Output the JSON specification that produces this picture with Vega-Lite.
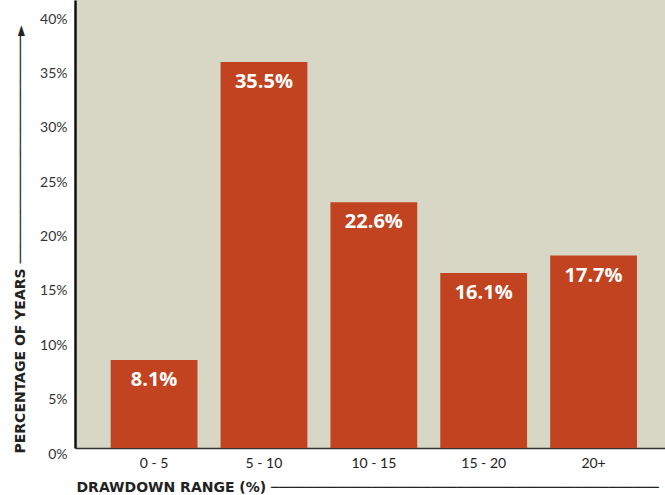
{
  "$schema": "https://vega.github.io/schema/vega-lite/v6.json",
  "width": 590,
  "height": 448,
  "autosize": "none",
  "padding": {"left": 75, "top": 0, "right": 0, "bottom": 47},
  "background": "white",
  "view": {"fill": "#D8D6C4", "stroke": null},
  "config": {"font": "Lato"},
  "data": {
    "values": [
      {"range": "0 - 5", "pct": 0.081},
      {"range": "5 - 10", "pct": 0.355},
      {"range": "10 - 15", "pct": 0.226},
      {"range": "15 - 20", "pct": 0.161},
      {"range": "20+", "pct": 0.177}
    ]
  },
  "encoding": {
    "x": {
      "field": "range",
      "type": "nominal",
      "sort": null,
      "scale": {"paddingInner": 0.21, "paddingOuter": 0.29, "align": 0.56},
      "axis": {
        "labelAngle": 0,
        "labelFontSize": 14,
        "labelColor": "#222",
        "labelPadding": 8,
        "ticks": false,
        "domainColor": "#333",
        "domainWidth": 1.5,
        "title": "DRAWDOWN RANGE (%) ──────────────────────────────────────────────",
        "titleFont": "DejaVu Sans",
        "titleFontSize": 14,
        "titleFontWeight": "bold",
        "titleColor": "#222",
        "titleAnchor": "start",
        "titleAlign": "left",
        "titleBaseline": "middle",
        "titleX": 1,
        "titleY": 39
      }
    },
    "y": {
      "field": "pct",
      "type": "quantitative",
      "scale": {"domain": [0, 0.412], "nice": false},
      "axis": {
        "values": [0, 0.05, 0.1, 0.15, 0.2, 0.25, 0.3, 0.35, 0.4],
        "format": ".0%",
        "labelFontSize": 14,
        "labelColor": "#333",
        "labelPadding": 8,
        "labelOffset": 6,
        "ticks": false,
        "grid": false,
        "domainColor": "#111",
        "domainWidth": 2.5,
        "title": "PERCENTAGE OF YEARS ───────────────────────────►",
        "titleFont": "DejaVu Sans",
        "titleFontSize": 14,
        "titleFontWeight": "bold",
        "titleColor": "#222",
        "titleAnchor": "start",
        "titleAlign": "left",
        "titleBaseline": "middle",
        "titleX": -55,
        "titleY": 453
      }
    }
  },
  "layer": [
    {"mark": {"type": "bar", "color": "#C1431F"}},
    {
      "mark": {"type": "text", "baseline": "middle", "dy": 20, "color": "white", "font": "Open Sans", "fontSize": 20, "fontWeight": "bold"},
      "encoding": {"text": {"field": "pct", "type": "quantitative", "format": ".1%"}}
    }
  ]
}
